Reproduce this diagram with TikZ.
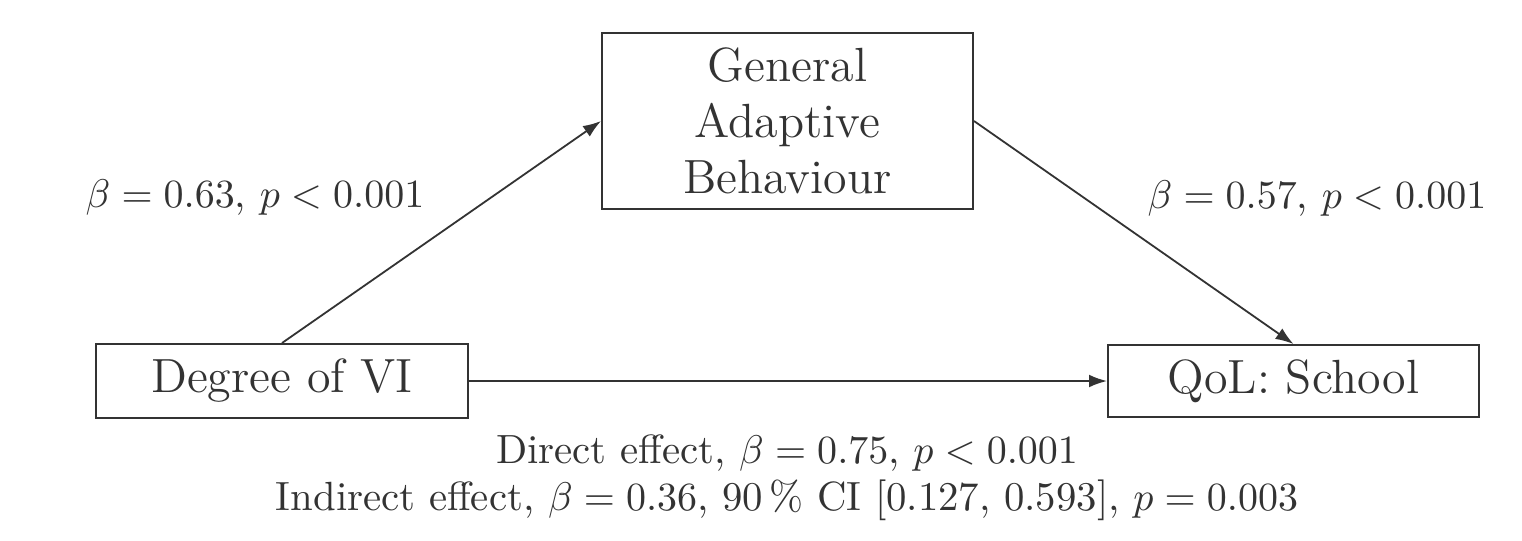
\documentclass[tikz,border=0pt]{standalone}
\usetikzlibrary{arrows.meta}
\definecolor{ink}{HTML}{333333}
\begin{document}
\begin{tikzpicture}[x=0.25pt,y=-0.25pt,
  box/.style={draw=ink,line width=0.5pt,text=ink,inner sep=0pt,align=center,font=\fontsize{12}{14}\selectfont},
  lab/.style={text=ink,inner sep=0pt,anchor=base,font=\fontsize{10.2}{12}\selectfont},
  conn/.style={draw=ink,line width=0.45pt,-{Latex[length=4.5pt,width=3.2pt]}}]
\useasboundingbox (0,0) rectangle (1522,540);
\node[box,minimum width=92.75pt,minimum height=44pt] (gab) at (787.5,121) {General\\Adaptive\\Behaviour};
\node[box,minimum width=93pt,minimum height=18.5pt] (deg) at (282,381) {Degree of VI};
\node[box,minimum width=92.75pt,minimum height=18pt] (qol) at (1293.5,381) {QoL: School};
\draw[conn] (deg.north) -- (gab.west);
\draw[conn] (gab.east) -- (qol.north);
\draw[conn] (deg.east) -- (qol.west);
\node[lab] (l1) at (255,207) {$\beta=0.63$, $p<0.001$};
\node[lab] (l2) at (1317,208) {$\beta=0.57$, $p<0.001$};
\node[lab] (l3) at (787,463) {Direct effect, $\beta=0.75$, $p<0.001$};
\node[lab] (l4) at (787,510) {Indirect effect, $\beta=0.36$, 90\,\% CI [0.127, 0.593], $p=0.003$};
\end{tikzpicture}
\end{document}
